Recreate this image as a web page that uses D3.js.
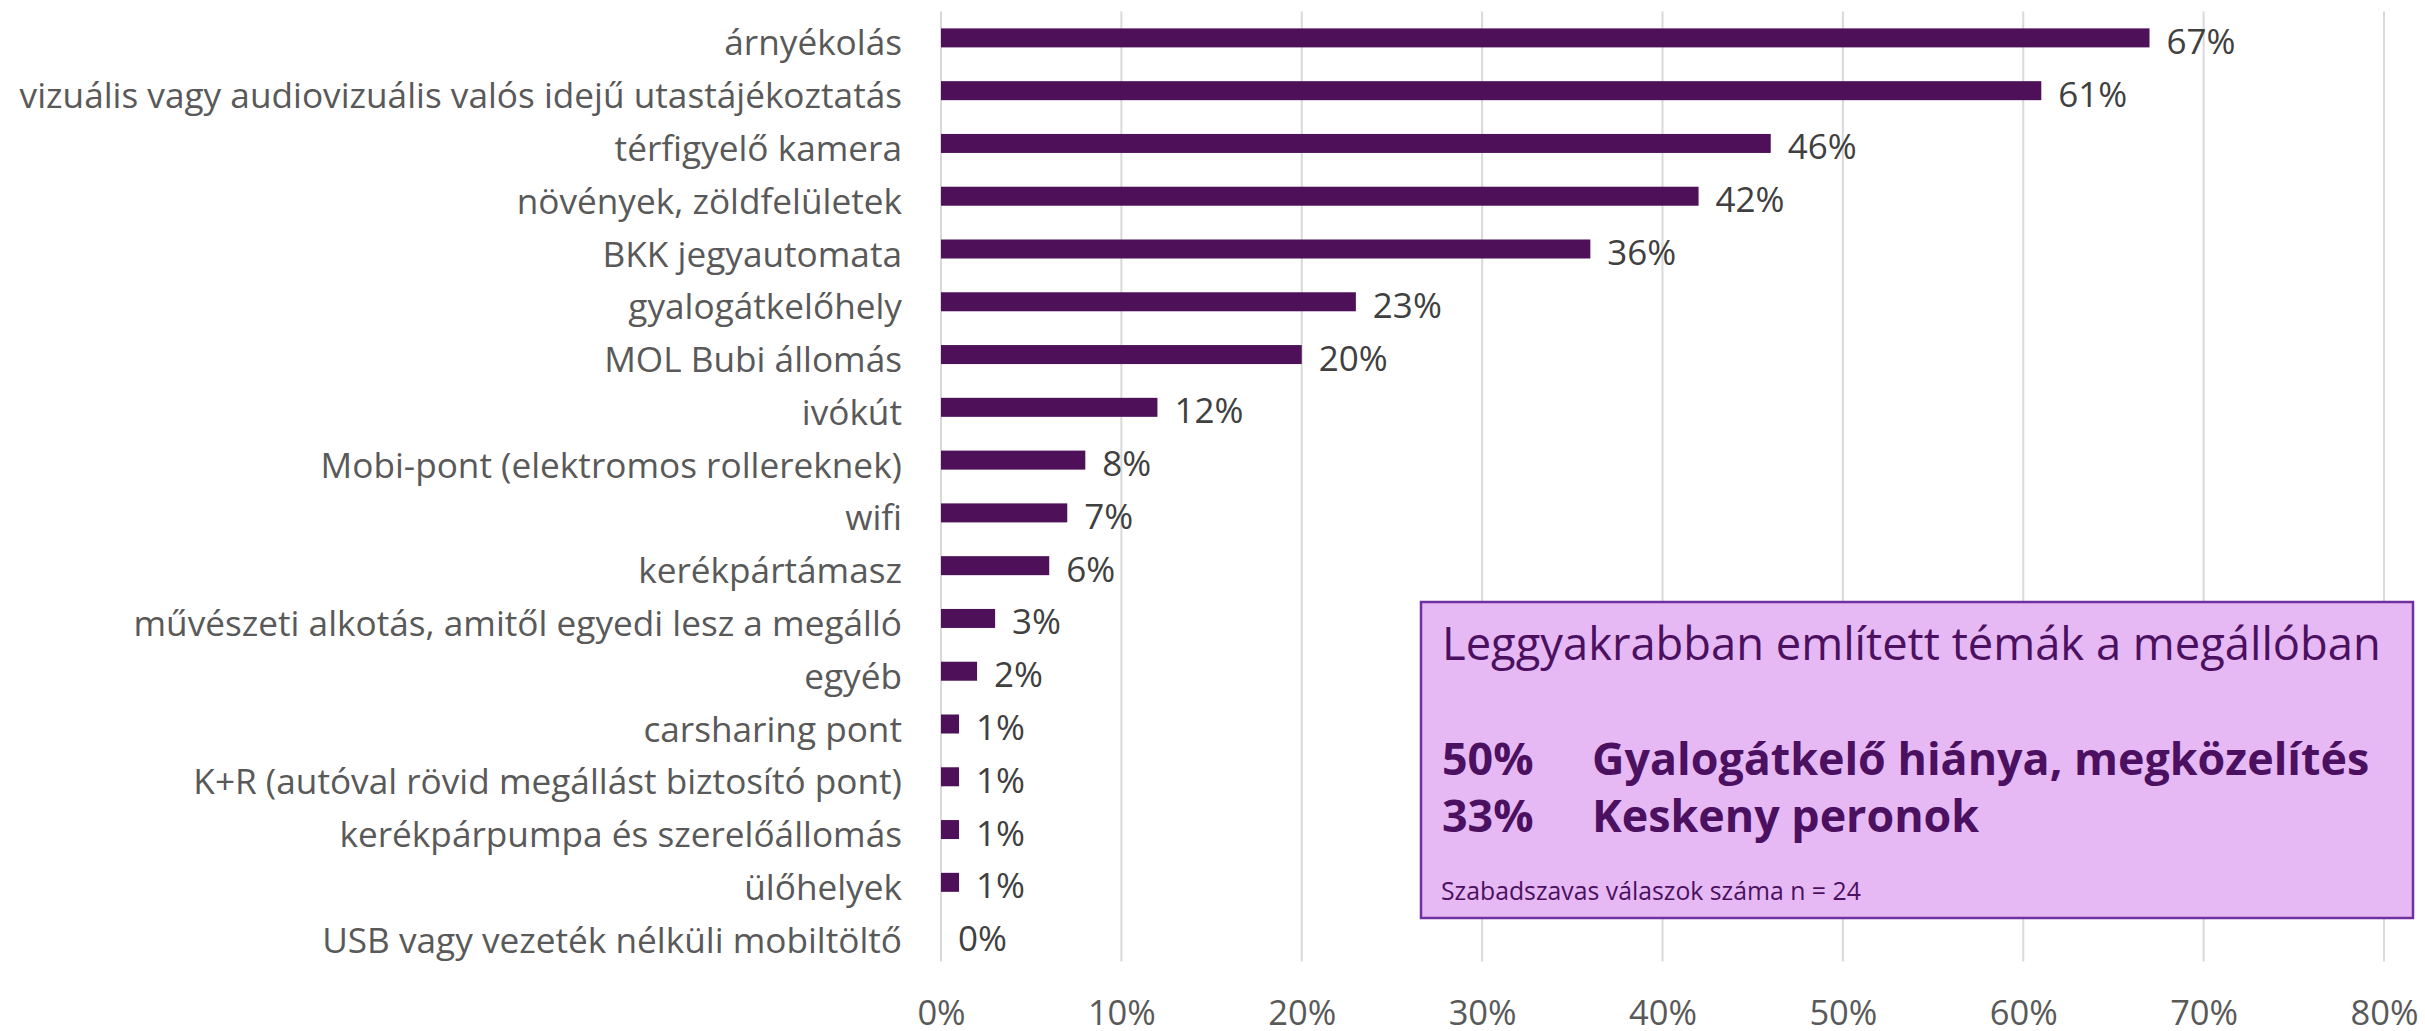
<!DOCTYPE html>
<html>
<head>
<meta charset="utf-8">
<script src="https://cdn.jsdelivr.net/npm/d3@7"></script>
<style>
  html, body { margin: 0; padding: 0; background: #ffffff; }
  svg { display: block; }
  text { font-family: "Open Sans", "Noto Sans", sans-serif; }
</style>
</head>
<body>
<svg id="chart" width="2425" height="1031"></svg>
<script>
// Survey answers: which equipment respondents would like at the stop
const categories = [
  "árnyékolás",
  "vizuális vagy audiovizuális valós idejű utastájékoztatás",
  "térfigyelő kamera",
  "növények, zöldfelületek",
  "BKK jegyautomata",
  "gyalogátkelőhely",
  "MOL Bubi állomás",
  "ivókút",
  "Mobi-pont (elektromos rollereknek)",
  "wifi",
  "kerékpártámasz",
  "művészeti alkotás, amitől egyedi lesz a megálló",
  "egyéb",
  "carsharing pont",
  "K+R (autóval rövid megállást biztosító pont)",
  "kerékpárpumpa és szerelőállomás",
  "ülőhelyek",
  "USB vagy vezeték nélküli mobiltöltő"
];
const shares = [0.67, 0.61, 0.46, 0.42, 0.36, 0.23, 0.20, 0.12, 0.08, 0.07, 0.06, 0.03, 0.02, 0.01, 0.01, 0.01, 0.01, 0.00];
const tickValues = [0, 0.1, 0.2, 0.3, 0.4, 0.5, 0.6, 0.7, 0.8];

// Free-text answers summary
const boxTitle = "Leggyakrabban említett témák a megállóban";
const topicShares = ["50%", "33%"];
const topicNames = ["Gyalogátkelő hiánya, megközelítés", "Keskeny peronok"];
const boxNote = "Szabadszavas válaszok száma n = 24";

const BAR = "#4d1059";
const fmt = d3.format(".0%");

const svg = d3.select("#chart");

const x = d3.scaleLinear().domain([0, 0.8]).range([941, 2384]);
const y = d3.scaleBand().domain(categories).range([11.5, 961.5])
  .paddingInner(0.64).paddingOuter(0.32);

// vertical gridlines
svg.append("g")
  .selectAll("line")
  .data(tickValues)
  .join("line")
  .attr("x1", d => x(d)).attr("x2", d => x(d))
  .attr("y1", 11.5).attr("y2", 961.5)
  .attr("stroke", "#d9d9d9").attr("stroke-width", 2);

// x axis tick labels
const xAxis = d3.axisBottom(x).tickValues(tickValues).tickFormat(fmt).tickSize(0).tickPadding(0);
const gx = svg.append("g").attr("transform", "translate(0,1025)").call(xAxis);
gx.select(".domain").remove();
gx.selectAll("text")
  .attr("dy", 0).attr("y", 0)
  .attr("font-family", "Open Sans")
  .attr("font-size", 34.5)
  .attr("fill", "#595959");

// category axis
const yAxis = d3.axisLeft(y).tickSize(0).tickPadding(0);
const gy = svg.append("g").attr("transform", "translate(902,0)").call(yAxis);
gy.select(".domain").remove();
gy.selectAll("text")
  .attr("dy", 0).attr("x", 0)
  .attr("transform", "translate(0," + (y.bandwidth() / 2 + 8) + ")")
  .attr("font-family", "Open Sans")
  .attr("font-size", 35.2)
  .attr("fill", "#595959");

// bars
svg.append("g")
  .selectAll("rect")
  .data(shares)
  .join("rect")
  .attr("x", x(0))
  .attr("y", (d, i) => y(categories[i]))
  .attr("width", d => x(d) - x(0))
  .attr("height", y.bandwidth())
  .attr("fill", BAR);

// value labels
svg.append("g")
  .selectAll("text")
  .data(shares)
  .join("text")
  .attr("x", d => x(d) + 17)
  .attr("y", (d, i) => y(categories[i]) + y.bandwidth() / 2 + 16)
  .attr("font-size", 35)
  .attr("fill", "#404040")
  .text(d => fmt(d));

// summary box of the free-text answers
const box = svg.append("g");
box.append("rect")
  .attr("x", 1421).attr("y", 602)
  .attr("width", 2413 - 1421).attr("height", 918 - 602)
  .attr("fill", "#e6b9f4")
  .attr("stroke", "#7030a0").attr("stroke-width", 2.5);

box.append("text")
  .attr("x", 1442).attr("y", 660)
  .attr("font-size", 45.3)
  .attr("fill", "#4b1060")
  .text(boxTitle);

const rowY = [775, 831.7];
topicShares.forEach((s, i) => {
  box.append("text")
    .attr("x", 1442).attr("y", rowY[i])
    .attr("font-size", 44.8).attr("font-weight", 700)
    .attr("fill", "#4b1060")
    .text(s);
  box.append("text")
    .attr("x", 1592).attr("y", rowY[i])
    .attr("font-size", 44.8).attr("font-weight", 700)
    .attr("fill", "#4b1060")
    .text(topicNames[i]);
});

box.append("text")
  .attr("x", 1441).attr("y", 900)
  .attr("font-size", 24.8)
  .attr("fill", "#4b1060")
  .text(boxNote);
</script>
</body>
</html>
